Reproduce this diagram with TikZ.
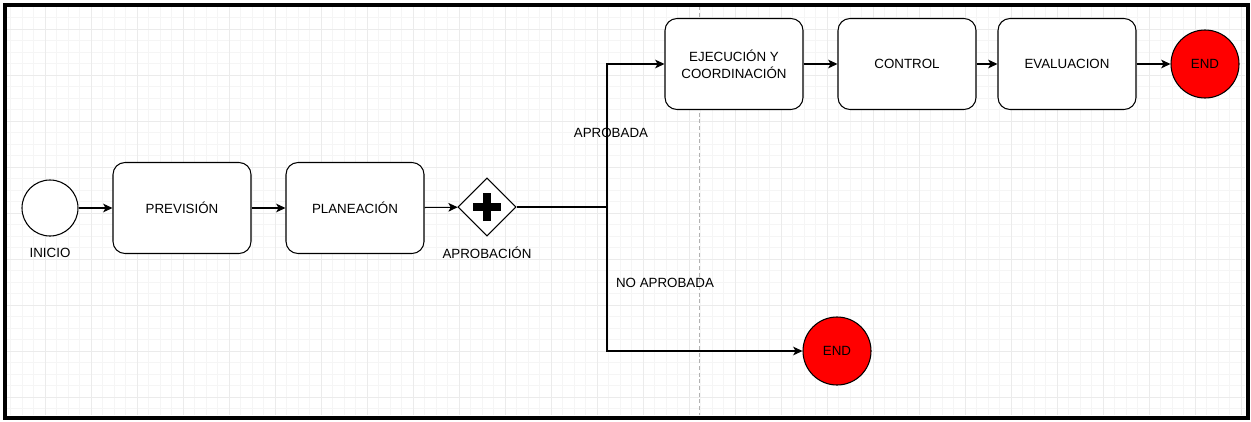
\documentclass[tikz,border=0pt]{standalone}
\usepackage{fontspec}
\setmainfont{Liberation Sans}
\usetikzlibrary{arrows.meta, shapes.geometric}

\begin{document}
\begin{tikzpicture}[x = 0.75pt, y = -0.75pt,
		font = \fontsize{10}{13}\selectfont,
		task/.style = {draw, line width = 0.8pt, rounded corners = 9pt, fill = white, minimum width = 103.5pt, minimum height = 68.25pt, align = center, inner sep = 0pt},
		startev/.style = {draw, line width = 0.8pt, circle, fill = white, minimum size = 42pt, inner sep = 0pt},
		endev/.style = {draw, line width = 0.8pt, circle, fill = red, minimum size = 51pt, inner sep = 0pt},
		gate/.style = {draw, line width = 0.8pt, diamond, fill = white, minimum width = 43.5pt, minimum height = 43.5pt, inner sep = 0pt},
		plusbar/.style = {line width = 5.5pt},
		flow/.style = {line width = 0.8pt, -{Stealth[length = 7pt, width = 6.5pt, inset = 1.8pt]}},
		lbl/.style = {inner sep = 0pt}]
					\def\xMIN{7};
					\def\xMAX{1245};
					\def\yMIN{6};
					\def\yMAX{415};

					\useasboundingbox (0,0) rectangle (1251,421);

					\begin{scope}
						\clip (\xMIN,\yMIN) rectangle (\xMAX,\yMAX);
						\foreach \i in {0,...,108}
						{
							\draw[black!4, line width = 0.75pt] ({10.5+11.5*\i},\yMIN) -- ({10.5+11.5*\i},\yMAX);
						}
						\foreach \j in {0,...,36}
						{
							\draw[black!4, line width = 0.75pt] (\xMIN,{6+11.5*\j}) -- (\xMAX,{6+11.5*\j});
						}
						\foreach \i in {0,...,26}
						{
							\draw[black!8, line width = 0.75pt] ({45+46*\i},\yMIN) -- ({45+46*\i},\yMAX);
						}
						\foreach \j in {0,...,8}
						{
							\draw[black!8, line width = 0.75pt] (\xMIN,{29+46*\j}) -- (\xMAX,{29+46*\j});
						}
						\draw[black!30, line width = 0.75pt, dash pattern = on 3pt off 2pt] (699,\yMIN) -- (699,\yMAX);
					\end{scope}

					\draw[line width = 3pt] (5,4.5) rectangle (1247.5,417.5);

					\node[startev] (inicio) at (50,208) {};
					\node[lbl] (inicioLbl) at (50,253) {INICIO};
					\node[task] (prevision) at (182,208) {PREVISIÓN};
					\node[task] (planeacion) at (355,208) {PLANEACIÓN};
					\node[gate] (aprob) at (487,207) {};
					\node[lbl] (aprobLbl) at (487,253) {APROBACIÓN};
					\coordinate (split) at (607,207);

					\node[task] (ejecucion) at (734,64) {EJECUCIÓN Y\\COORDINACIÓN};
					\node[task] (control) at (907,64) {CONTROL};
					\node[task] (evaluacion) at (1067,64) {EVALUACION};
					\node[endev] (endTop) at (1205,64) {END};
					\node[endev] (endBot) at (837,351) {END};

					\node[lbl] (aprobada) at (611,133) {APROBADA};
					\node[lbl] (noAprobada) at (665,283) {NO APROBADA};

					\draw[plusbar] ([xshift = -10.5pt]aprob.center) -- ([xshift = 10.5pt]aprob.center);
					\draw[plusbar] ([yshift = -10.5pt]aprob.center) -- ([yshift = 10.5pt]aprob.center);

					\begin{scope}
						\draw[flow] (inicio) -- (prevision);
						\draw[flow] (prevision) -- (planeacion);
						\draw[flow] (planeacion) -- (aprob);
						\draw[line width = 0.8pt] (aprob) -- (split);
						\draw[flow] (split) |- (ejecucion.west);
						\draw[flow] (split) |- (endBot.west);
						\draw[flow] (ejecucion) -- (control);
						\draw[flow] (control) -- (evaluacion);
						\draw[flow] (evaluacion) -- (endTop);
					\end{scope}
				\end{tikzpicture}
\end{document}
